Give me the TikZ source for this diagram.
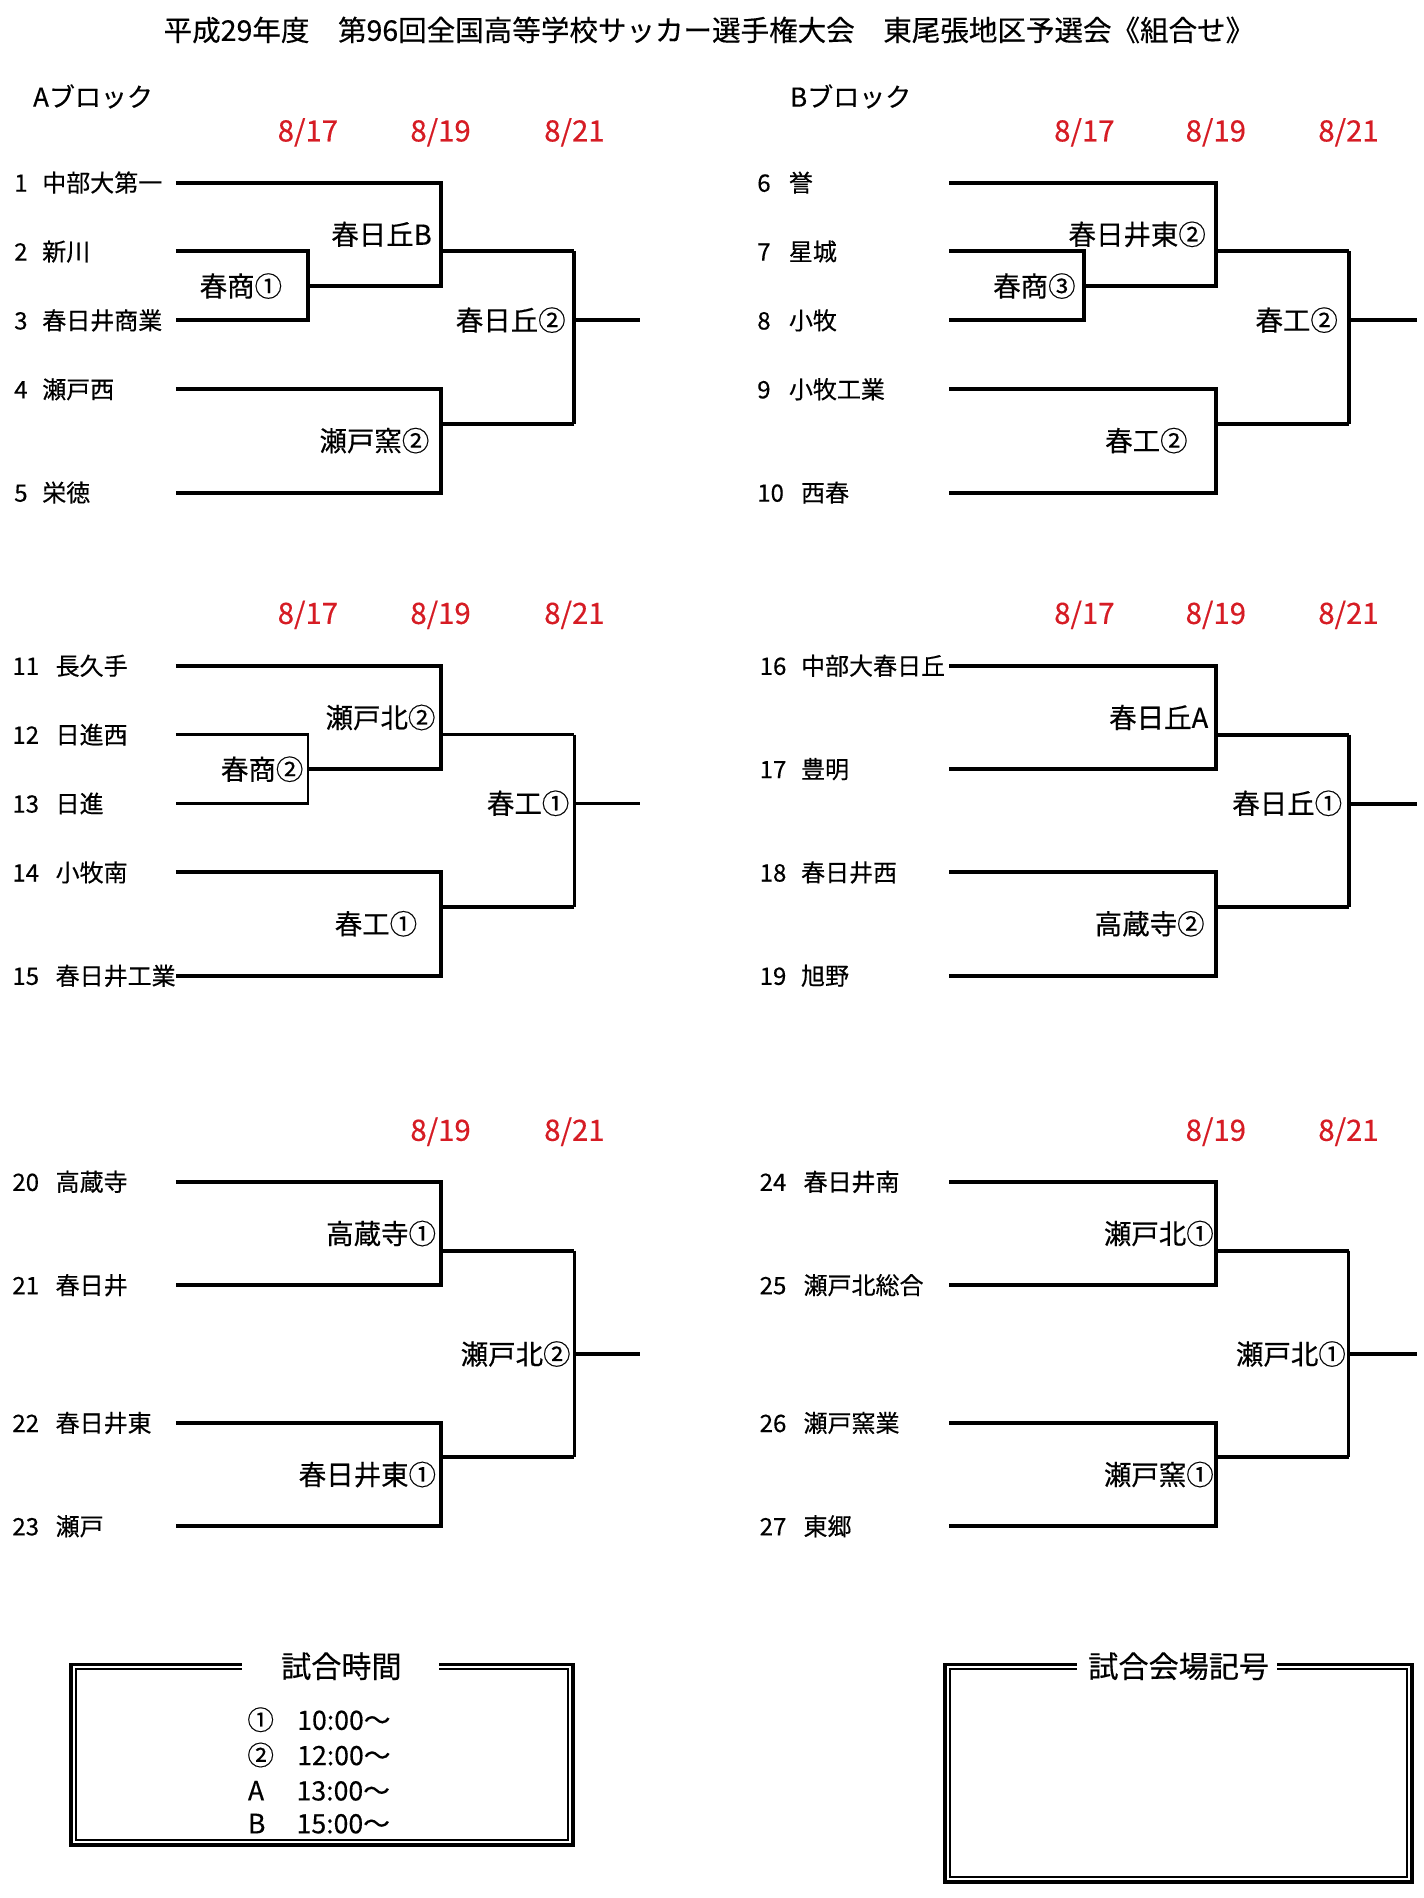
\documentclass[tikz,border=0pt]{standalone}
\usepackage{fontspec}
\setmainfont{Noto Sans CJK JP}[FakeBold=0.35]
\definecolor{datered}{RGB}{214,28,36}
\tikzset{
  br/.style={line width=3.0pt},
  brmid/.style={line width=2.1pt},
  brthin/.style={line width=1.6pt},
  pairst/.style={br}, joinst/.style={br}, vertst/.style={br}, outst/.style={br},
  teamtxt/.style={inner sep=0pt, font=\fontsize{18}{20}\selectfont, text height=13.7pt, text depth=0pt, anchor=west},
  lbl/.style={inner sep=0pt, font=\fontsize{20.6}{22}\selectfont, text height=15.7pt, text depth=0pt, anchor=east},
  datetxt/.style={inner sep=0pt, font=\fontsize{22}{24}\selectfont, text height=16.1pt, text depth=0pt, text=datered},
  blktxt/.style={inner sep=0pt, font=\fontsize{19.5}{22}\selectfont, text height=14.8pt, text depth=0pt, anchor=west},
  titletxt/.style={inner sep=0pt, font=\fontsize{21.4}{24}\selectfont, text height=16.3pt, text depth=0pt},
  legtitle/.style={inner sep=0pt, font=\fontsize{22.6}{25}\selectfont, text height=17.2pt, text depth=0pt},
  legtxt/.style={inner sep=0pt, font=\fontsize{20}{22}\selectfont, text height=15.2pt, text depth=0pt, anchor=west},
  outerb/.style={line width=2.83pt},
  innerb/.style={line width=1.5pt},
}
% team: prefix, xnum, xname, y, number, name
\newcommand\tteam[6]{\node[teamtxt] (#1n) at (#2,#4) {#5};\node[teamtxt] (#1) at (#3,#4) {#6};}
% five-team bracket: prefix, xs, xa, xb, xc, xe, y0
\newcommand\fivebr[7]{%
  \pgfmathsetmacro\ya{#7}\pgfmathsetmacro\yb{#7+2*28.3}\pgfmathsetmacro\yc{#7+3*28.3}%
  \pgfmathsetmacro\yd{#7+4*28.3}\pgfmathsetmacro\ye{#7+6*28.3}\pgfmathsetmacro\yf{#7+7*28.3}%
  \pgfmathsetmacro\yg{#7+9*28.3}%
  \coordinate (#1s1) at (#2,\ya);\coordinate (#1s2) at (#2,\yb);\coordinate (#1s3) at (#2,\yd);
  \coordinate (#1s4) at (#2,\ye);\coordinate (#1s5) at (#2,\yg);
  \coordinate (#1m23) at (#3,\yc);\coordinate (#1k23) at (#4,\yc);
  \coordinate (#1m123) at (#4,\yb);\coordinate (#1m45) at (#4,\yf);
  \coordinate (#1t) at (#5,\yb);\coordinate (#1q) at (#5,\yf);
  \coordinate (#1mF) at (#5,\yd);\coordinate (#1oF) at (#6,\yd);
  \draw[pairst] (#1s2) -| (#1m23) |- (#1s3);
  \draw[br] (#1s1) -| (#1k23) -- (#1m23);
  \draw[joinst] (#1m123) -- (#1t);
  \draw[vertst] (#1t) -- (#1q);
  \draw[br] (#1q) -- (#1m45);
  \draw[br] (#1s4) -| (#1m45) |- (#1s5);
  \draw[outst] (#1mF) -- (#1oF);
}
% four-team bracket: prefix, xs, xb, xc, xe, y0, k (lower pair start), f (final out), style of final vertical
\newcommand\fourbr[9]{%
  \pgfmathsetmacro\ya{#6}\pgfmathsetmacro\yb{#6+2*28.3}\pgfmathsetmacro\yc{#6+3*28.3}%
  \pgfmathsetmacro\yd{#6+#7*28.3}\pgfmathsetmacro\ye{#6+(#7+1)*28.3}\pgfmathsetmacro\yf{#6+(#7+3)*28.3}%
  \pgfmathsetmacro\yg{#6+#8*28.3}%
  \coordinate (#1s1) at (#2,\ya);\coordinate (#1s2) at (#2,\yc);
  \coordinate (#1s3) at (#2,\yd);\coordinate (#1s4) at (#2,\yf);
  \coordinate (#1k12) at (#3,\yc);\coordinate (#1m12) at (#3,\yb);
  \coordinate (#1k34) at (#3,\yf);\coordinate (#1m34) at (#3,\ye);
  \coordinate (#1t) at (#4,\yb);\coordinate (#1q) at (#4,\ye);
  \coordinate (#1mF) at (#4,\yg);\coordinate (#1oF) at (#5,\yg);
  \draw[br] (#1s1) -| (#1k12) -- (#1s2);
  \draw[br] (#1s3) -| (#1k34) -- (#1s4);
  \draw[br] (#1m12) -- (#1t);
  \draw[br] (#1m34) -- (#1q);
  \draw[#9] (#1t) -- (#1q);
  \draw[br] (#1mF) -- (#1oF);
}
\begin{document}
\begin{tikzpicture}[x=0.9128pt,y=-0.9128pt]
\useasboundingbox (0,0) rectangle (1170,1559.5);
\fill[white] (0,0) rectangle (1170,1559.5);

\node[titletxt] (title) at (582.5,24.6) {平成29年度　第96回全国高等学校サッカー選手権大会　東尾張地区予選会《組合せ》};
\node[blktxt] (ablk) at (27,79.5) {Aブロック};
\node[blktxt] (bblk) at (649,79.5) {Bブロック};

% dates
\node[datetxt] (d1a) at (253,107.4) {8/17};
\node[datetxt] (d1b) at (362,107.4) {8/19};
\node[datetxt] (d1c) at (472,107.4) {8/21};
\node[datetxt] (d2a) at (891,107.4) {8/17};
\node[datetxt] (d2b) at (999,107.4) {8/19};
\node[datetxt] (d2c) at (1108,107.4) {8/21};
\node[datetxt] (d3a) at (253,503.8) {8/17};
\node[datetxt] (d3b) at (362,503.8) {8/19};
\node[datetxt] (d3c) at (472,503.8) {8/21};
\node[datetxt] (d4a) at (891,503.8) {8/17};
\node[datetxt] (d4b) at (999,503.8) {8/19};
\node[datetxt] (d4c) at (1108,503.8) {8/21};
\node[datetxt] (d5b) at (362,928.5) {8/19};
\node[datetxt] (d5c) at (472,928.5) {8/21};
\node[datetxt] (d6b) at (999,928.5) {8/19};
\node[datetxt] (d6c) at (1108,928.5) {8/21};

% teams
\tteam{t1}{11.5}{34.5}{150}{1}{中部大第一}
\tteam{t2}{11.5}{34.5}{206.6}{2}{新川}
\tteam{t3}{11.5}{34.5}{263.2}{3}{春日井商業}
\tteam{t4}{11.5}{34.5}{319.8}{4}{瀬戸西}
\tteam{t5}{11.5}{34.5}{404.7}{5}{栄徳}
\tteam{t6}{622}{648}{150}{6}{誉}
\tteam{t7}{622}{648}{206.6}{7}{星城}
\tteam{t8}{622}{648}{263.2}{8}{小牧}
\tteam{t9}{622}{648}{319.8}{9}{小牧工業}
\tteam{t10}{622}{658}{404.7}{10}{西春}
\tteam{t11}{10}{45.5}{547}{11}{長久手}
\tteam{t12}{10}{45.5}{603.6}{12}{日進西}
\tteam{t13}{10}{45.5}{660.2}{13}{日進}
\tteam{t14}{10}{45.5}{716.8}{14}{小牧南}
\tteam{t15}{10}{45.5}{801.7}{15}{春日井工業}
\tteam{t16}{624}{658}{547}{16}{中部大春日丘}
\tteam{t17}{624}{658}{631.9}{17}{豊明}
\tteam{t18}{624}{658}{716.8}{18}{春日井西}
\tteam{t19}{624}{658}{801.7}{19}{旭野}
\tteam{t20}{10}{45.5}{971}{20}{高蔵寺}
\tteam{t21}{10}{45.5}{1055.9}{21}{春日井}
\tteam{t22}{10}{45.5}{1169.1}{22}{春日井東}
\tteam{t23}{10}{45.5}{1254}{23}{瀬戸}
\tteam{t24}{624}{660}{971}{24}{春日井南}
\tteam{t25}{624}{660}{1055.9}{25}{瀬戸北総合}
\tteam{t26}{624}{660}{1169.1}{26}{瀬戸窯業}
\tteam{t27}{624}{660}{1254}{27}{東郷}

% brackets
\fivebr{A}{144.5}{253}{362}{472}{526}{150}
\fivebr{B}{780}{891}{999}{1108}{1164}{150}
\begin{scope}[pairst/.style={brmid}, joinst/.style={brmid}, vertst/.style={brmid}, outst/.style={brthin}]
\fivebr{C}{144.5}{253}{362}{472}{526}{547}
\end{scope}
\fourbr{D}{780}{999}{1108}{1164}{547}{6}{4}{br}
\fourbr{E}{144.5}{362}{472}{526}{971}{7}{5}{brthin}
\fourbr{F}{780}{999}{1108}{1164}{971}{7}{5}{brthin}

% winner labels
\node[lbl] (wA1) at (355,192.5) {春日丘B};
\node[lbl] (wA2) at (232,235) {春商①};
\node[lbl] (wA3) at (465,263) {春日丘②};
\node[lbl] (wA4) at (353,362) {瀬戸窯②};
\node[lbl] (wB1) at (991,192.5) {春日井東②};
\node[lbl] (wB2) at (884,235) {春商③};
\node[lbl] (wB3) at (1099.5,263) {春工②};
\node[lbl] (wB4) at (976,362) {春工②};
\node[lbl] (wC1) at (358,589.5) {瀬戸北②};
\node[lbl] (wC2) at (249.5,632) {春商②};
\node[lbl] (wC3) at (468,660) {春工①};
\node[lbl] (wC4) at (343,759) {春工①};
\node[lbl] (wD1) at (993,589.5) {春日丘A};
\node[lbl] (wD2) at (1103,660) {春日丘①};
\node[lbl] (wD3) at (990,759) {高蔵寺②};
\node[lbl] (wE1) at (358.5,1013.5) {高蔵寺①};
\node[lbl] (wE2) at (469,1112.5) {瀬戸北②};
\node[lbl] (wE3) at (358.5,1211.5) {春日井東①};
\node[lbl] (wF1) at (997.5,1013.5) {瀬戸北①};
\node[lbl] (wF2) at (1106,1112.5) {瀬戸北①};
\node[lbl] (wF3) at (997.5,1211.5) {瀬戸窯①};

% legend: match times
\draw[outerb] (58.55,1367.55) rectangle (470.95,1515.95);
\draw[innerb] (62.6,1371.6) rectangle (466.9,1511.9);
\fill[white] (198.6,1360) rectangle (360.5,1378);
\node[legtitle] (lt1) at (280.5,1369) {試合時間};
\node[legtxt] (r1a) at (203,1413) {①};
\node[legtxt] (r1b) at (244,1413) {10:00～};
\node[legtxt] (r2a) at (203,1442) {②};
\node[legtxt] (r2b) at (244,1442) {12:00～};
\node[legtxt] (r3a) at (203.5,1471) {A};
\node[legtxt] (r3b) at (243.5,1471) {13:00～};
\node[legtxt] (r4a) at (203.5,1498) {B};
\node[legtxt] (r4b) at (243.5,1498) {15:00～};

% legend: venue codes
\draw[outerb] (776.55,1367.55) rectangle (1160.45,1546.45);
\draw[innerb] (780.6,1371.6) rectangle (1156.4,1542.4);
\fill[white] (885,1360) rectangle (1049,1378);
\node[legtitle] (lt2) at (968.5,1369) {試合会場記号};
\end{tikzpicture}
\end{document}
